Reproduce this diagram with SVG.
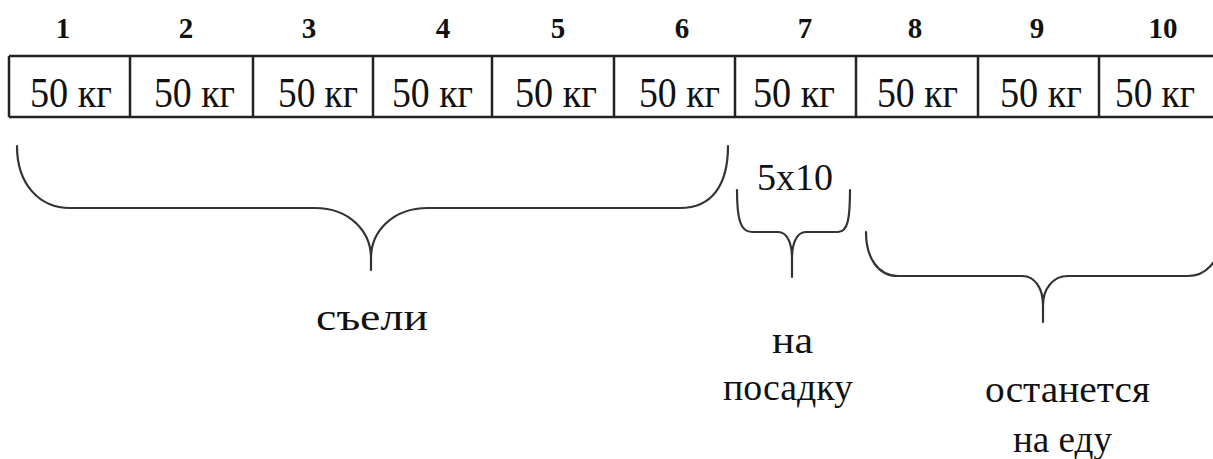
<svg xmlns="http://www.w3.org/2000/svg" width="1213" height="459" viewBox="0 0 1213 459">
<style>
.num{font-family:"Liberation Serif","Times New Roman",serif;font-weight:bold;font-size:29px;fill:#111;text-anchor:middle}
.kg{font-family:"Liberation Serif","Times New Roman",serif;font-size:42px;fill:#111}
.lbl{font-family:"Liberation Serif","Times New Roman",serif;font-size:38px;fill:#111}
.grid{stroke:#222;stroke-width:2.5;fill:none}
.brace{stroke:#333;stroke-width:2.2;fill:none;stroke-linecap:round}
</style>
<rect width="1213" height="459" fill="#fff"/>
<g id="numbers">
<text class="num" x="63" y="38">1</text>
<text class="num" x="186" y="38">2</text>
<text class="num" x="309" y="38">3</text>
<text class="num" x="443" y="38">4</text>
<text class="num" x="558" y="38">5</text>
<text class="num" x="682" y="38">6</text>
<text class="num" x="805" y="38">7</text>
<text class="num" x="915" y="38">8</text>
<text class="num" x="1037" y="38">9</text>
<text class="num" x="1163" y="38">10</text>
</g>
<g id="table">
<path class="grid" d="M9 56 H1213 M9 117 H1213 M9 56 V117 M130 56 V117 M253 56 V117 M373 56 V117 M492 56 V117 M614 56 V117 M735 56 V117 M856 56 V117 M978 56 V117 M1099 56 V117"/>
<text class="kg" x="30" y="107" textLength="82" lengthAdjust="spacingAndGlyphs">50 кг</text>
<text class="kg" x="154" y="107" textLength="81" lengthAdjust="spacingAndGlyphs">50 кг</text>
<text class="kg" x="278" y="107" textLength="80" lengthAdjust="spacingAndGlyphs">50 кг</text>
<text class="kg" x="392" y="107" textLength="81" lengthAdjust="spacingAndGlyphs">50 кг</text>
<text class="kg" x="515" y="107" textLength="82" lengthAdjust="spacingAndGlyphs">50 кг</text>
<text class="kg" x="639" y="107" textLength="81" lengthAdjust="spacingAndGlyphs">50 кг</text>
<text class="kg" x="753" y="107" textLength="82" lengthAdjust="spacingAndGlyphs">50 кг</text>
<text class="kg" x="877" y="107" textLength="81" lengthAdjust="spacingAndGlyphs">50 кг</text>
<text class="kg" x="1000" y="107" textLength="82" lengthAdjust="spacingAndGlyphs">50 кг</text>
<text class="kg" x="1115" y="107" textLength="80" lengthAdjust="spacingAndGlyphs">50 кг</text>
</g>
<g id="connectors">
<path class="brace" d="M17 146 C17 185 40 208 70 208 L315 208 C350 208 371 232 371 258 L371 270 M371 258 C371 232 392 208 428 208 L680 208 C712 208 728 185 728 146"/>
<path class="brace" d="M737 190 C737 218 740 232 752 232 L778 232 C788 232 792 245 792 258 L792 277 M792 258 C792 245 796 232 806 232 L838 232 C848 232 850 218 850 190"/>
<path class="brace" d="M866 232 C866 258 878 276 898 276 L1022 276 C1036 276 1043 290 1043 305 L1043 322 M1043 305 C1043 290 1052 276 1068 276 L1188 276 C1206 276 1218 262 1222 240"/>
</g>
<g id="label-eaten">
<text class="lbl" x="316" y="330" font-size="48" textLength="112" lengthAdjust="spacingAndGlyphs">съели</text>
</g>
<g id="label-5x10">
<text class="lbl" x="757" y="190" font-size="40" textLength="76" lengthAdjust="spacingAndGlyphs">5x10</text>
</g>
<g id="label-planting">
<text class="lbl" x="772" y="353" textLength="41" lengthAdjust="spacingAndGlyphs">на</text>
<text class="lbl" x="723" y="400" textLength="130" lengthAdjust="spacingAndGlyphs">посадку</text>
</g>
<g id="label-food">
<text class="lbl" x="985" y="402" textLength="165" lengthAdjust="spacingAndGlyphs">останется</text>
<text class="lbl" x="1013" y="452" textLength="99" lengthAdjust="spacingAndGlyphs">на еду</text>
</g>
</svg>
